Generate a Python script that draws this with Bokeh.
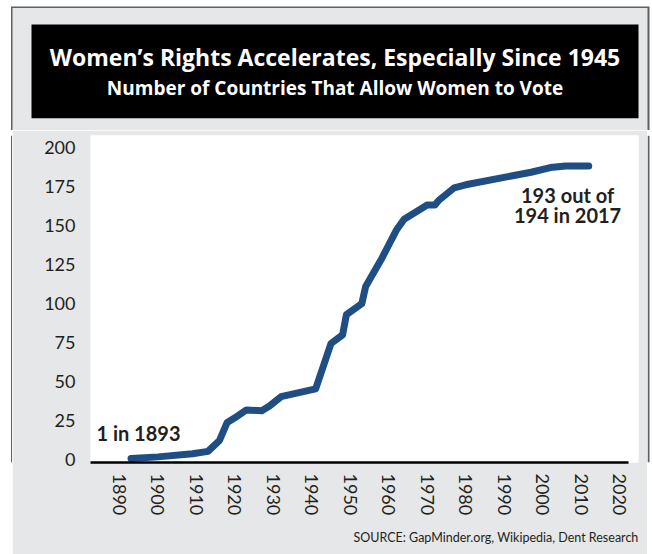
from bokeh.plotting import figure
from bokeh.layouts import column, row
from bokeh.models import Range1d, FixedTicker, Title, Label
from bokeh.core.properties import value
from bokeh.embed import file_html
from bokeh.resources import INLINE

# ---- data ----
years = [1893, 1900, 1909, 1913, 1916, 1918, 1920, 1923, 1927, 1929, 1932, 1941,
         1945, 1948, 1949, 1953, 1954, 1958, 1962, 1964, 1970, 1972, 1973, 1977,
         1980, 1997, 2002, 2006, 2012]
countries = [1, 2, 4, 5.5, 12.5, 24, 27, 32, 31.5, 34.5, 40.5, 45.5,
             74.5, 80, 93, 100, 111, 128, 147, 154, 163, 163, 166, 174,
             176, 184, 187, 188, 188]
x_ticks = list(range(1890, 2021, 10))
y_ticks = list(range(0, 201, 25))

title_text = "Women\u2019s Rights Accelerates, Especially Since 1945"
subtitle_text = "Number of Countries That Allow Women to Vote"
source_text = "SOURCE: GapMinder.org, Wikipedia, Dent Research"
start_note = "1 in 1893"
end_note_1 = "193 out of"
end_note_2 = "194 in 2017"

GRAY = "#e6e7e8"
INK = "#231f20"
BLUE = "#1f4e85"
EDGE = "#5f6062"
TOTAL_W = 652
TOP_H = 130
BOT_H = 424
L_W = 12
R_W = 5


def blank(width, height):
    f = figure(width=width, height=height, x_range=Range1d(0, width),
               y_range=Range1d(height, 0), x_axis_location=None, y_axis_location=None,
               toolbar_location=None, output_backend="svg", min_border=0)
    f.outline_line_color = None
    f.grid.visible = False
    f.background_fill_color = "white"
    f.border_fill_color = "white"
    return f


# ---- header figure ----
top = blank(TOTAL_W, TOP_H)
top.quad(left=10.5, right=649, top=6, bottom=TOP_H, fill_color=EDGE, line_color=None)
top.quad(left=12, right=647, top=7.5, bottom=TOP_H, fill_color=GRAY, line_color=None)
top.quad(left=31, right=638, top=24, bottom=117.7, fill_color="black", line_color=None)
top.text(x=[334.5], y=[56.5], text=[title_text], text_font=value("Open Sans"),
         text_font_style="bold", text_font_size="23px", text_color="white",
         text_align="center", text_baseline="middle")
top.text(x=[334.5], y=[87], text=[subtitle_text], text_font=value("Open Sans"),
         text_font_style="bold", text_font_size="19px", text_color="white",
         text_align="center", text_baseline="middle")

# ---- side strips carrying the panel border ----
lstrip = blank(L_W, BOT_H)
lstrip.quad(left=10.5, right=12, top=0, bottom=BOT_H, fill_color=EDGE, line_color=None)

rstrip = blank(R_W, BOT_H)
rstrip.quad(left=0, right=2, top=0, bottom=BOT_H, fill_color=EDGE, line_color=None)

# ---- chart figure ----
p = figure(width=TOTAL_W - L_W - R_W, height=BOT_H, x_range=Range1d(1882.46, 2024.94),
           y_range=Range1d(-1.6, 207.5), toolbar_location=None, output_backend="svg",
           min_border_left=78, min_border_right=9, min_border_top=5, min_border_bottom=92)
p.background_fill_color = "white"
p.border_fill_color = GRAY
p.outline_line_color = None
p.grid.visible = False

p.line(years, countries, line_color=BLUE, line_width=7,
       line_cap="round", line_join="round")

xa = p.xaxis[0]
xa.ticker = FixedTicker(ticks=x_ticks)
xa.bounds = (1882.46, 2022.3)
xa.axis_line_color = "black"
xa.axis_line_width = 2.5
xa.major_tick_line_color = None
xa.minor_tick_line_color = None
xa.major_tick_out = 0
xa.major_tick_in = 0
xa.minor_tick_out = 0
xa.major_label_orientation = "vertical"
xa.major_label_standoff = 11
xa.major_label_text_font = "Lato"
xa.major_label_text_font_size = "18px"
xa.major_label_text_color = INK

ya = p.yaxis[0]
ya.ticker = FixedTicker(ticks=y_ticks)
ya.axis_line_color = None
ya.major_tick_line_color = None
ya.minor_tick_line_color = None
ya.major_tick_out = 0
ya.major_tick_in = 0
ya.minor_tick_out = 0
ya.major_label_standoff = 15
ya.major_label_text_font = "Lato"
ya.major_label_text_font_size = "18px"
ya.major_label_text_color = INK

p.add_layout(Label(x=1884, y=17, text=start_note, text_font="Lato",
                   text_font_style="bold", text_font_size="20px", text_color=INK,
                   text_align="left", text_baseline="middle"))
p.add_layout(Label(x=2006.5, y=169.5, text=end_note_1, text_font="Lato",
                   text_font_style="bold", text_font_size="20px", text_color=INK,
                   text_align="center", text_baseline="middle"))
p.add_layout(Label(x=2006.5, y=156.5, text=end_note_2, text_font="Lato",
                   text_font_style="bold", text_font_size="20px", text_color=INK,
                   text_align="center", text_baseline="middle"))

p.add_layout(Title(text=source_text, align="right", text_font="Lato",
                   text_font_style="normal", text_font_size="12.5px",
                   text_color=INK, standoff=19), "below")

layout = column(top, row(lstrip, p, rstrip, spacing=0), spacing=0)

open("out.html", "w").write(file_html(layout, INLINE))
